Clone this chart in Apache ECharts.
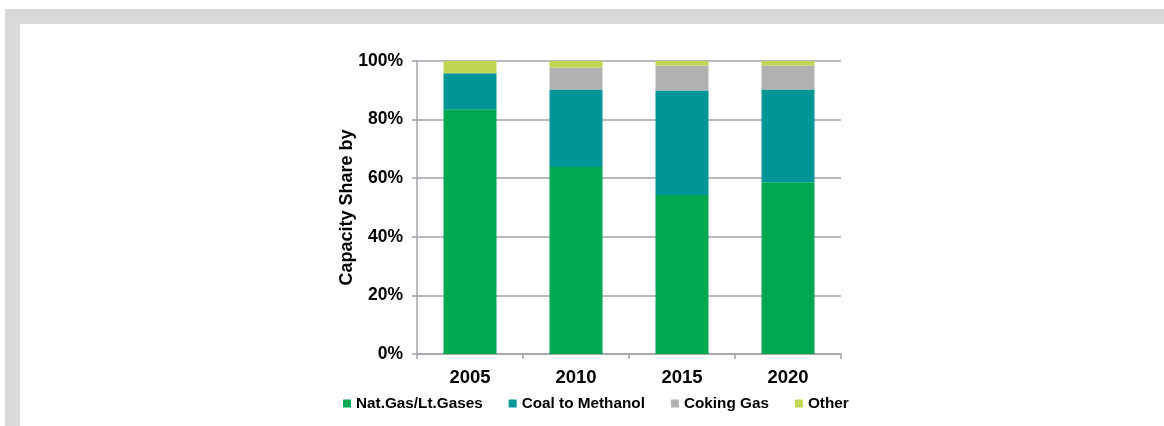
<!DOCTYPE html>
<html>
<head>
<meta charset="utf-8">
<script src="https://cdn.jsdelivr.net/npm/echarts@6/dist/echarts.min.js"></script>
<style>
  html, body { margin: 0; padding: 0; background: #fff; }
  #wrap { position: relative; width: 1164px; height: 426px; overflow: hidden; }
  .band { position: absolute; background: #d9d9d9; }
  #chart { position: absolute; left: 0; top: 0; width: 1164px; height: 426px; }
</style>
</head>
<body>
<div id="wrap">
  <div class="band" style="left:5px; top:9px; width:1159px; height:15px;"></div>
  <div class="band" style="left:5px; top:9px; width:15px; height:417px;"></div>
  <div id="chart"></div>
</div>
<script>
// share of capacity per feedstock, in percent
let years = ["2005", "2010", "2015", "2020"];
let natGas = [83.5, 63.8, 54.3, 58.6];
let coalToMethanol = [12.3, 26.5, 35.6, 31.7];
let cokingGas = [0, 7.5, 8.6, 8.2];
let other = [4.2, 2.2, 1.5, 1.5];
let yTicks = [0, 20, 40, 60, 80, 100];

let chartDom = document.getElementById("chart");
let myChart = echarts.init(chartDom, null, { renderer: "canvas" });

let font = "'Liberation Sans', Arial, sans-serif";

function barSeries(name, data, color) {
  return {
    name: name,
    type: "bar",
    stack: "total",
    barWidth: "50%",
    data: data,
    itemStyle: { color: color },
    emphasis: { disabled: true }
  };
}

let option = {
  animation: false,
  textStyle: { fontFamily: font },
  grid: { left: 417, right: 323, top: 61, bottom: 72 },
  legend: {
    left: 338,
    top: 391,
    icon: "rect",
    itemWidth: 8,
    itemHeight: 8,
    itemGap: 26,
    textStyle: { fontFamily: font, fontWeight: "bold", fontSize: 15.3, color: "#000" },
    data: ["Nat.Gas/Lt.Gases", "Coal to Methanol", "Coking Gas", "Other"]
  },
  xAxis: {
    type: "category",
    data: years,
    axisLine: { lineStyle: { color: "#a0a4ab", width: 1.5 } },
    axisTick: { show: true, length: 5, lineStyle: { color: "#a0a4ab", width: 1.5 } },
    axisLabel: { fontFamily: font, fontWeight: "bold", fontSize: 18.5, color: "#000", margin: 14 }
  },
  yAxis: {
    type: "value",
    min: yTicks[0],
    max: yTicks[yTicks.length - 1],
    interval: 20,
    name: "Capacity Share by",
    nameLocation: "middle",
    nameRotate: 90,
    nameGap: 61,
    nameMoveOverlap: false,
    nameTextStyle: { fontFamily: font, fontWeight: "bold", fontSize: 18, color: "#000" },
    axisLine: { show: true, lineStyle: { color: "#a0a4ab", width: 1.5 } },
    axisTick: { show: true, length: 5, lineStyle: { color: "#a0a4ab", width: 1.5 } },
    splitLine: { lineStyle: { color: "#9ea3ad", width: 1.5 } },
    axisLabel: {
      fontFamily: font, fontWeight: "bold", fontSize: 17.5, color: "#000", margin: 14,
      formatter: v => v + "%"
    }
  },
  series: [
    barSeries("Nat.Gas/Lt.Gases", natGas, "#00a84f"),
    barSeries("Coal to Methanol", coalToMethanol, "#009597"),
    barSeries("Coking Gas", cokingGas, "#b0b1b3"),
    barSeries("Other", other, "#bfd652")
  ]
};

myChart.setOption(option);
</script>
</body>
</html>
